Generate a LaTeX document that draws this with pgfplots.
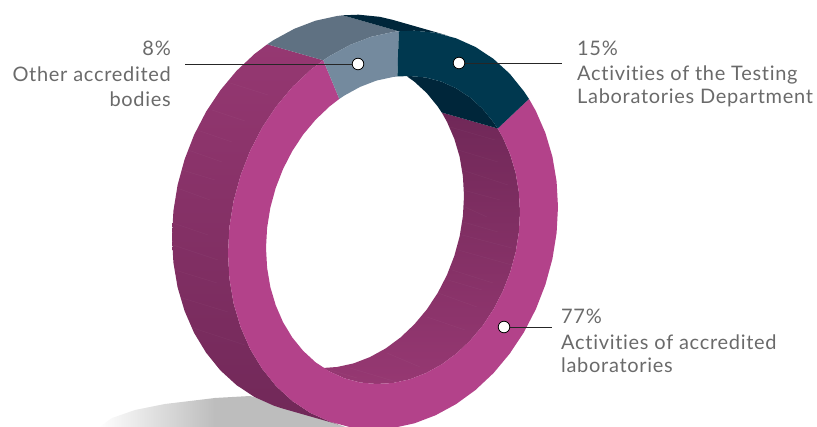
\documentclass[border=0pt]{standalone}
\usepackage{pgfplots}
\pgfplotsset{compat=1.18}
\usepackage{fontspec}
\setmainfont{Lato}[LetterSpace=3.5,Ligatures=NoCommon]
\definecolor{mag}{HTML}{B3428A}
\definecolor{navy}{HTML}{00384F}
\definecolor{navyd}{HTML}{00263A}
\definecolor{slate}{HTML}{748A9E}
\definecolor{slated}{HTML}{5F7182}
\definecolor{purpL}{HTML}{963872}
\definecolor{purpD}{HTML}{702858}
\definecolor{txt}{HTML}{6A6A6A}
\definecolor{shad}{HTML}{BDBDBD}
\tikzset{lab/.style={font=\fontsize{20}{24}\selectfont, text=txt, inner sep=0pt},
 facet/.style={white, opacity=0.04, line width=0.5pt}}
\begin{document}
\begin{tikzpicture}
\begin{axis}[
  scale only axis, width=817pt, height=427pt,
  xmin=0, xmax=817, ymin=0, ymax=427, y dir=reverse,
  axis lines=none, clip=true,
  every axis plot/.append style={line join=round},
]
% shadow
\addplot[draw=none, left color=white, right color=shad] coordinates {(98,428)(112,418)(135,410)(165,404)(190,401)(215,398)(215,428)} --cycle;
\addplot[draw=none, fill=shad] coordinates {(214.5,398)(250,396)(300,410)(348,428)(214.5,428)} --cycle;
% outer side of the ring
\addplot[draw=none, top color=purpL, bottom color=purpD] coordinates {
 (267.3,44.3)(254.5,54)(236.5,70.9)(220.3,90.3)(206.1,111.7)(194.1,134.9)(184.6,159.4)(177.6,185)(173.4,211)(172,237)
 (173.4,262.6)(177.6,287.4)(184.6,311)(194.1,332.9)(206.1,352.7)(220.3,370.3)(236.5,385.1)(254.5,397)(273.9,405.7)(281.9,408.3)
 (337.9,424.3)(329.9,421.7)(310.5,413)(292.5,401.1)(276.3,386.3)(262.1,368.7)(250.1,348.9)(240.6,327)(233.6,303.4)(229.4,278.6)(228,253)(229.4,227)(233.6,201)(240.6,175.4)
 (250.1,150.9)(262.1,127.7)(276.3,106.3)(292.5,86.9)(310.5,70)(323.3,60.3)} --cycle;
\addplot[draw=none, fill=slated] coordinates {(267.3,44.3)(273.9,39.9)(294.3,28.8)(315.5,20.7)(337,16)(342.8,15.3)
 (398.8,31.3)(393,32)(371.5,36.7)(350.3,44.8)(329.9,55.9)(323.3,60.3)} --cycle;
\addplot[draw=none, fill=navyd] coordinates {(342.8,15.3)(358.5,14.7)(379.7,16.8)(392.1,19.7)(448.1,35.7)(435.7,32.8)(414.5,30.7)(398.8,31.3)} --cycle;
% inner side of the ring
\addplot[draw=none, top color=purpD, bottom color=purpL] coordinates {
 (441.7,112.5)(447,121.9)(454.3,138.8)(459.7,157)(462.9,176.2)(464,196)(462.9,216.2)(459.7,236.2)(454.3,256)(447,274.9)
 (437.8,292.8)(426.8,309.5)(414.3,324.4)(400.5,337.5)(385.6,348.5)(369.9,357.1)(353.6,363.4)(337,367)(323,368)
 (329.5,371.5)(344.4,378.3)(360.1,382.5)(376.4,384)(393,383)(409.6,379.4)(425.9,373.1)(441.6,364.5)(456.5,353.5)(470.3,340.4)
 (482.8,325.5)(493.8,308.8)(503,290.9)(510.3,272)(515.7,252.2)(518.9,232.2)(520,212)(518.9,192.2)(515.7,173)(510.3,154.8)(503,137.9)(497.7,128.5)} --cycle;
\addplot[draw=none, fill=navyd] coordinates {(407.1,76.5)(414.3,81.6)(426.8,93.1)(437.8,106.6)(441.7,112.5)(497.7,128.5)(493.8,122.6)(482.8,109.1)(470.3,97.6)(456.5,88.5)(441.6,81.7)(425.9,77.5)(409.6,76)} --cycle;
% faint facet lines on the sides
\addplot[facet] coordinates {(230,83)(268,95)};
\addplot[facet] coordinates {(212,110)(245,121)};
\addplot[facet] coordinates {(197,130)(232,142)};
\addplot[facet] coordinates {(188,150)(222,162)};
\addplot[facet] coordinates {(182,170)(215,180)};
\addplot[facet] coordinates {(177,188)(210,200)};
\addplot[facet] coordinates {(173,223)(208,235)};
\addplot[facet] coordinates {(173,245)(218,260)};
\addplot[facet] coordinates {(175,270)(217,283)};
\addplot[facet] coordinates {(182,298)(228,312)};
\addplot[facet] coordinates {(193,328)(245,345)};
\addplot[facet] coordinates {(450,127)(495,140)};
\addplot[facet] coordinates {(458,150)(498,162)};
\addplot[facet] coordinates {(462,170)(508,185)};
\addplot[facet] coordinates {(463,190)(500,200)};
\addplot[facet] coordinates {(465,207)(487,217)};
\addplot[facet] coordinates {(463,222)(498,232)};
\addplot[facet] coordinates {(462,235)(512,248)};
\addplot[facet] coordinates {(458,250)(512,265)};
\addplot[facet] coordinates {(452,270)(493,283)};
\addplot[facet] coordinates {(448,280)(482,290)};
\addplot[facet] coordinates {(438,293)(477,307)};
\addplot[facet] coordinates {(427,317)(465,330)};
\addplot[facet] coordinates {(387,353)(420,367)};
\addplot[facet] coordinates {(350,368)(400,383)};
\addplot[facet] coordinates {(330,370)(357,378)};
% front faces
\addplot[draw=none, fill=mag] coordinates {
 (529,98.9)(535.9,111.1)(545.4,133)(552.4,156.6)(556.6,181.4)(558,207)(556.6,233)(552.4,259)(545.4,284.6)(535.9,309.1)(523.9,332.3)
 (509.7,353.7)(493.5,373.1)(475.5,390)(456.1,404.1)(435.7,415.2)(414.5,423.3)(393,428)(371.5,429.3)(350.3,427.2)(329.9,421.7)(310.5,413)
 (292.5,401.1)(276.3,386.3)(262.1,368.7)(250.1,348.9)(240.6,327)(233.6,303.4)(229.4,278.6)(228,253)(229.4,227)(233.6,201)(240.6,175.4)
 (250.1,150.9)(262.1,127.7)(276.3,106.3)(292.5,86.9)(310.5,70)(323.3,60.3)
 (339.3,98.9)(329.5,106.5)(315.7,119.6)(303.2,134.5)(292.2,151.2)(283,169.1)(275.7,188)(270.3,207.8)(267.1,227.8)(266,248)(267.1,267.8)
 (270.3,287)(275.7,305.2)(283,322.1)(292.2,337.4)(303.2,350.9)(315.7,362.4)(329.5,371.5)(344.4,378.3)(360.1,382.5)(376.4,384)(393,383)
 (409.6,379.4)(425.9,373.1)(441.6,364.5)(456.5,353.5)(470.3,340.4)(482.8,325.5)(493.8,308.8)(503,290.9)(510.3,272)(515.7,252.2)(518.9,232.2)
 (520,212)(518.9,192.2)(515.7,173)(510.3,154.8)(503,137.9)(497.7,128.5)} --cycle;
\addplot[draw=none, fill=slate] coordinates {(323.3,60.3)(329.9,55.9)(350.3,44.8)(371.5,36.7)(393,32)(398.8,31.3)(397.4,76.5)(393,77)(376.4,80.6)(360.1,86.9)(344.4,95.5)(339.3,98.9)} --cycle;
\addplot[draw=none, fill=navy] coordinates {(398.8,31.3)(414.5,30.7)(435.7,32.8)(456.1,38.3)(475.5,47)(493.5,58.9)(509.7,73.7)(523.9,91.3)(529,98.9)
 (497.7,128.5)(493.8,122.6)(482.8,109.1)(470.3,97.6)(456.5,88.5)(441.6,81.7)(425.9,77.5)(409.6,76)(397.4,76.5)} --cycle;
% leaders
\addplot[black!85, line width=0.9pt] coordinates {(185,64)(358,64)};
\addplot[black!85, line width=0.9pt] coordinates {(459,63)(562,63)};
\addplot[black!85, line width=0.9pt] coordinates {(504,327)(552,327)};
\addplot[only marks, mark=*, mark size=5.8pt, mark options={fill=white, draw=black, line width=0.8pt}] coordinates {(358,64)(459,63)(504,327)};
% labels
\node[lab, anchor=base east] at (axis cs:171,56) {8\%};
\node[lab, anchor=base east] at (axis cs:171,82) {Other accredited};
\node[lab, anchor=base east] at (axis cs:171,107) {bodies};
\node[lab, anchor=base west] at (axis cs:577,56) {15\%};
\node[lab, anchor=base west] at (axis cs:577,81) {Activities of the Testing};
\node[lab, anchor=base west] at (axis cs:577,104) {Laboratories Department};
\node[lab, anchor=base west] at (axis cs:561,324) {77\%};
\node[lab, anchor=base west] at (axis cs:561,350) {Activities of accredited};
\node[lab, anchor=base west] at (axis cs:561,373) {laboratories};
\end{axis}
\path (current axis.south west) rectangle (current axis.north east);
\end{tikzpicture}
\end{document}
